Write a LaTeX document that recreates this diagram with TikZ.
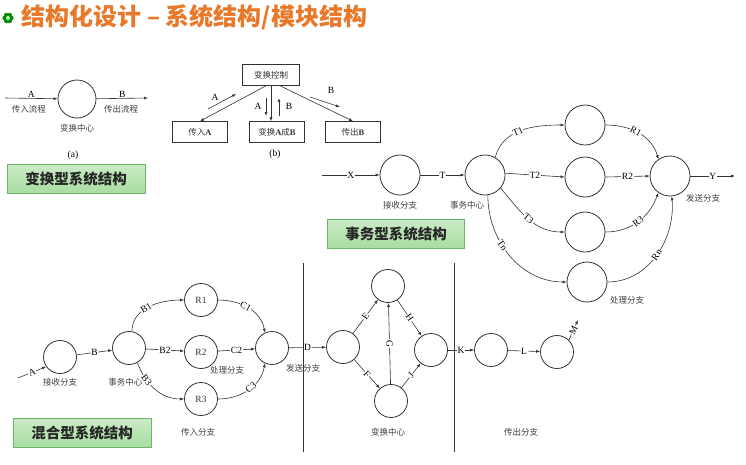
\documentclass[tikz,border=0pt]{standalone}
\usepackage{fontspec}
\setmainfont{Liberation Serif}
\newfontfamily\cjk{Noto Sans CJK SC}
\usetikzlibrary{arrows.meta}
\definecolor{ttl}{HTML}{E8792A}
\definecolor{gfill}{HTML}{A8DDA0}
\definecolor{gline}{HTML}{6DB56A}
\begin{document}
\begin{tikzpicture}[x=1pt,y=-1pt,
  lbl/.style={font=\fontsize{8.5}{9}\selectfont\cjk, text=black!75},
  el/.style={font=\fontsize{9.5}{10}\selectfont, fill=white, inner sep=0.6pt},
  sl/.style={el, sloped},
  cir/.style={circle, draw, thick, black!80, minimum size=#1, inner sep=0pt},
  cir/.default=38pt,
  bx/.style={draw, black!80, minimum width=55pt, minimum height=21pt, font=\fontsize{8.5}{9}\selectfont\cjk, inner sep=1pt},
  ar/.style={draw=black!80, -{Latex[length=4pt,width=3pt]}},
  tag/.style={draw=gline, top color=gfill!60, bottom color=gfill, font=\fontsize{14.5}{16}\selectfont\cjk\bfseries, text=black!85, minimum height=29pt, inner sep=3pt},
  every path/.style={line width=0.6pt}]
\useasboundingbox (0,0) rectangle (746,464);
\fill[white] (0,0) rectangle (746,464);
% title
\foreach \a in {0,60,...,300} \fill[green!55!black] (8,18) ++(\a:3.5) circle (2.2);
\fill[green!30] (8,18) circle (2);
\node[anchor=west, text=ttl, font=\fontsize{24}{26}\selectfont\cjk\bfseries] (title) at (18,17) {结构化设计 – 系统结构/模块结构};
% (a)
\node[cir] (ac) at (77,99) {};
\coordinate (a0) at (5,98);
\coordinate (a1) at (148,98);
\draw[ar] (a0) -- node[el, fill=none, above]{A} (ac);
\draw[ar] (ac) -- node[el, fill=none, above]{B} (a1);
\node[lbl] (l1) at (29,109) {传入流程};
\node[lbl] (l2) at (121,109) {传出流程};
\node[lbl] (l3) at (77,128) {变换中心};
\node[el] (la) at (73,155) {(a)};
\node[tag, minimum width=138pt] (tag1) at (76,179) {变换型系统结构};
% (b)
\node[bx, minimum width=57pt] (ctl) at (271,75) {变换控制};
\node[bx] (bi) at (200,132) {传入{\rmfamily\bfseries A}};
\node[bx] (bt) at (277,132) {变换{\rmfamily\bfseries A}成{\rmfamily\bfseries B}};
\node[bx] (bo) at (353,132) {传出{\rmfamily\bfseries B}};
\draw[ar] (ctl.-115) -- (bi.north);
\draw[ar] (ctl.south) -- (ctl.south|-bt.north);
\draw[ar] (ctl.-50) -- (bo.north);
\coordinate (s1) at (208,109); \coordinate (s2) at (236,94);
\draw[ar] (s1) -- (s2); \node[el, fill=none] (sa) at (215,97) {A};
\coordinate (s3) at (266,98); \coordinate (s4) at (266,116);
\draw[ar] (s3) -- (s4); \node[el, fill=none] (sb) at (258,106) {A};
\coordinate (s5) at (279,116); \coordinate (s6) at (279,98);
\draw[ar] (s5) -- (s6); \node[el, fill=none] (sc) at (289,106) {B};
\coordinate (s7) at (310,97); \coordinate (s8) at (340,107);
\draw[ar] (s7) -- (s8); \node[el, fill=none] (sd) at (331,90) {B};
\node[el] (lb) at (275,154) {(b)};
% transaction
\coordinate (x0) at (322,175);
\node[cir=40pt] (rc) at (400,175) {};
\node[cir=40pt] (tc) at (485,175) {};
\node[cir=40pt] (p1) at (585,125) {};
\node[cir=40pt] (p2) at (585,177) {};
\node[cir=40pt] (p3) at (585,232) {};
\node[cir=40pt] (p4) at (587,282) {};
\node[cir=40pt] (sdc) at (670,176) {};
\coordinate (y1) at (735,176);
\draw[ar] (x0) -- node[el]{X} (rc);
\draw[ar] (rc) -- node[el]{T} (tc);
\draw[ar] (tc.60) to[out=75,in=180] node[sl, pos=0.45]{T1} (p1.west);
\draw[ar] (tc.5) to node[el]{T2} (p2.west);
\draw[ar] (tc.-40) to[out=-50,in=180] node[sl]{T3} (p3.west);
\draw[ar] (tc.-82) to[out=-90,in=180] node[sl, pos=0.4]{Tn} (p4.west);
\draw[ar] (p1.east) to[out=0,in=105] node[sl, pos=0.45]{R1} (sdc.125);
\draw[ar] (p2.east) -- node[el]{R2} (sdc.west);
\draw[ar] (p3.east) to[out=0,in=-110] node[sl]{R3} (sdc.-125);
\draw[ar] (p4.east) to[out=0,in=-85] node[sl, pos=0.5]{Rn} (sdc.-85);
\draw[ar] (sdc) -- node[el]{Y} (y1);
\node[lbl] (m1) at (400,205) {接收分支};
\node[lbl] (m2) at (467,205) {事务中心};
\node[lbl] (m3) at (703,198) {发送分支};
\node[lbl] (m4) at (627,300) {处理分支};
\node[tag, minimum width=137pt] (tag2) at (396,234) {事务型系统结构};
% mixed
\tikzset{mc/.style={cir=33pt, font=\fontsize{9.5}{10}\selectfont}}
\node[mc] (c1) at (60,357) {};
\node[mc] (c2) at (129,348) {};
\node[mc] (r1) at (201,300) {R1};
\node[mc] (r2) at (201,352) {R2};
\node[mc] (r3) at (201,399) {R3};
\node[mc] (sn) at (272,348) {};
\node[mc] (ti) at (343,347) {};
\node[mc] (tp) at (388,286) {};
\node[mc] (bt2) at (391,401) {};
\node[mc] (rt) at (431,350) {};
\node[mc] (ko) at (491,350) {};
\node[mc] (la2) at (557,352) {};
\coordinate (m0) at (18,378);
\coordinate (mm) at (578,320);
\draw[ar] (m0) -- node[sl]{A} (c1.-145);
\draw[ar] (c1) -- node[el]{B} (c2);
\draw[ar] (c2.80) to[out=90,in=180] node[sl, pos=0.45]{B1} (r1.west);
\draw[ar] (c2) -- node[el]{B2} (r2);
\draw[ar] (c2.-60) to[out=-70,in=180] node[sl, pos=0.3]{B3} (r3.west);
\draw[ar] (r1.east) to[out=0,in=100] node[sl, pos=0.45]{C1} (sn.115);
\draw[ar] (r2) -- node[el]{C2} (sn);
\draw[ar] (r3.east) to[out=0,in=-100] node[sl, pos=0.55]{C3} (sn.-115);
\draw[ar] (sn) -- node[el]{D} (ti);
\draw[ar] (ti) -- node[sl]{E} (tp);
\draw[ar] (ti) -- node[sl]{F} (bt2);
\draw[ar] (bt2) -- node[sl]{G} (tp);
\draw[ar] (tp) -- node[sl]{H} (rt);
\draw[ar] (bt2) -- node[sl]{J} (rt);
\draw[ar] (rt) -- node[el]{K} (ko);
\draw[ar] (ko) -- node[el]{L} (la2);
\draw[ar] (la2.45) -- node[sl]{M} (mm);
\coordinate (v1) at (303,263); \coordinate (v2) at (303,452);
\coordinate (v3) at (454,263); \coordinate (v4) at (454,452);
\draw[black!80] (v1) -- (v2); \draw[black!80] (v3) -- (v4);
\node[lbl] (n1) at (60,382) {接收分支};
\node[lbl, anchor=east] (n2) at (146,382) {事务中心};
\node[lbl] (n3) at (227,370) {处理分支};
\node[lbl] (n4) at (303,368) {发送分支};
\node[lbl] (n5) at (198,432) {传入分支};
\node[lbl] (n6) at (388,432) {变换中心};
\node[lbl] (n7) at (521,432) {传出分支};
\node[tag, minimum width=138pt] (tag3) at (82,433) {混合型系统结构};
\end{tikzpicture}
\end{document}
